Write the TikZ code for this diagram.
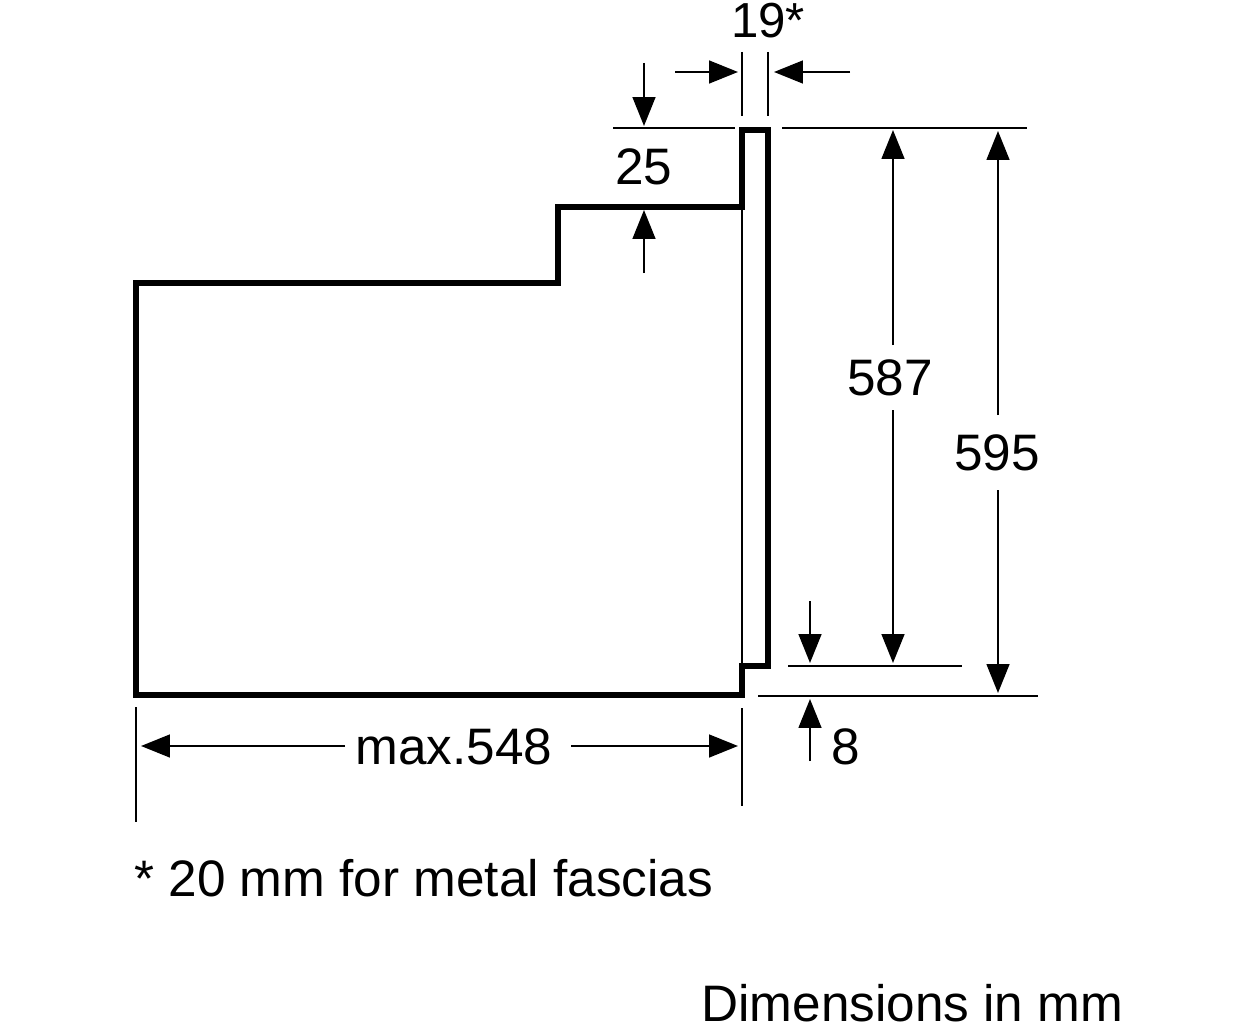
\documentclass[tikz,border=0pt]{standalone}
\usepackage{fontspec}
\setmainfont{Liberation Sans}
\usetikzlibrary{arrows.meta}

\begin{document}
\begin{tikzpicture}[x = 0.02cm, y = -0.02cm,
    thin line/.style = {line width = 1.2pt},
    casing/.style = {line width = 2.9pt, line join = miter},
    dim/.style = {thin line, -{Triangle[length = 16.5pt, width = 13pt]}},
    label/.style = {anchor = base, inner sep = 0pt, font = \fontsize{29.2}{32}\selectfont}]
\useasboundingbox (0, 0) rectangle (1252, 1024);

\draw [casing] (136, 283) -- (558, 283) -- (558, 207) -- (742, 207) -- (742, 130)
    -- (768, 130) -- (768, 666) -- (742, 666) -- (742, 695) -- (136, 695) -- cycle;
\draw [thin line] (742, 207) -- (742, 666);

\node [label, font = \fontsize{28}{32}\selectfont] (w19) at (768, 38) {19*};
\node [label] (h25) at (644, 185) {25};
\node [label] (h587) at (890, 395) {587};
\node [label] (h595) at (997, 470) {595};
\node [label] (h8) at (846, 764) {8};
\node [label] (wmax) at (454, 764) {max.548};
\node [label, anchor = base west] (note) at (134, 896) {* 20 mm for metal fascias};
\node [label, anchor = base west] (units) at (701, 1021) {Dimensions in mm};

\coordinate (a1) at (742, 52);
\coordinate (a2) at (742, 116);
\coordinate (b1) at (768, 52);
\coordinate (b2) at (768, 116);
\coordinate (c1) at (613, 128);
\coordinate (c2) at (735, 128);
\coordinate (d1) at (782, 128);
\coordinate (d2) at (1027, 128);
\coordinate (e1) at (788, 666);
\coordinate (e2) at (962, 666);
\coordinate (f1) at (758, 696);
\coordinate (f2) at (1038, 696);
\coordinate (g1) at (136, 707);
\coordinate (g2) at (136, 822);
\coordinate (i1) at (742, 708);
\coordinate (i2) at (742, 806);
\draw [thin line] (a1) -- (a2);
\draw [thin line] (b1) -- (b2);
\draw [thin line] (c1) -- (c2);
\draw [thin line] (d1) -- (d2);
\draw [thin line] (e1) -- (e2);
\draw [thin line] (f1) -- (f2);
\draw [thin line] (g1) -- (g2);
\draw [thin line] (i1) -- (i2);

\coordinate (j1) at (675, 72);
\coordinate (j2) at (738, 72);
\coordinate (k1) at (850, 72);
\coordinate (k2) at (774, 72);
\coordinate (l1) at (644, 63);
\coordinate (l2) at (644, 126);
\coordinate (n1) at (644, 273);
\coordinate (n2) at (644, 210);
\coordinate (o1) at (810, 601);
\coordinate (o2) at (810, 663);
\coordinate (p1) at (810, 761);
\coordinate (p2) at (810, 699);
\draw [dim] (j1) -- (j2);
\draw [dim] (k1) -- (k2);
\draw [dim] (l1) -- (l2);
\draw [dim] (n1) -- (n2);
\draw [dim] (o1) -- (o2);
\draw [dim] (p1) -- (p2);

\coordinate (q1) at (893, 345);
\coordinate (q2) at (893, 130);
\coordinate (q3) at (893, 410);
\coordinate (q4) at (893, 663);
\coordinate (r1) at (998, 415);
\coordinate (r2) at (998, 131);
\coordinate (r3) at (998, 490);
\coordinate (r4) at (998, 693);
\coordinate (s1) at (345, 746);
\coordinate (s2) at (141, 746);
\coordinate (s3) at (571, 746);
\coordinate (s4) at (738, 746);
\draw [dim] (q1) -- (q2);
\draw [dim] (q3) -- (q4);
\draw [dim] (r1) -- (r2);
\draw [dim] (r3) -- (r4);
\draw [dim] (s1) -- (s2);
\draw [dim] (s3) -- (s4);
\end{tikzpicture}
\end{document}
